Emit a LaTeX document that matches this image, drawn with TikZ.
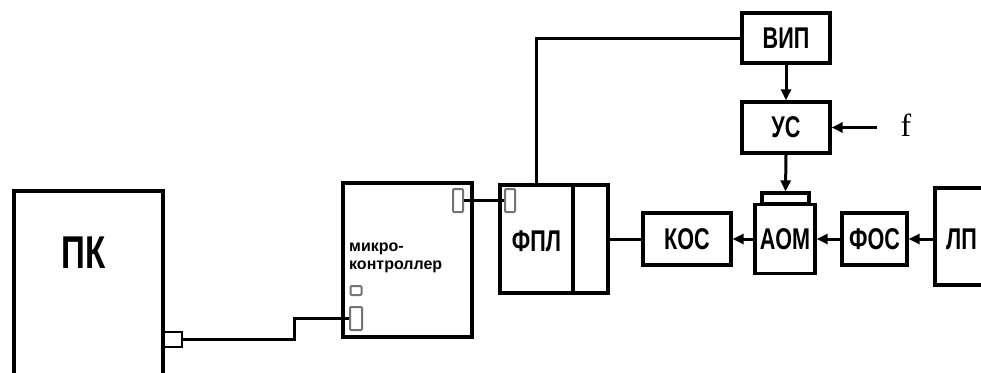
\documentclass[tikz,border=0pt]{standalone}
\usepackage{fontspec}
\setmainfont{Liberation Sans}
\newfontfamily\cond[FakeStretch=0.72]{Liberation Sans}
\newfontfamily\serifnorm{Liberation Serif}
\usetikzlibrary{arrows.meta}
\begin{document}
\begin{tikzpicture}[x=1pt,y=-1pt,
  blk/.style={draw=black,line width=3.2pt,minimum width=#1,inner sep=0pt},
  lbl/.style={font=\cond\bfseries\fontsize{30}{30}\selectfont,inner sep=0pt},
  port/.style={draw=black!55,line width=2pt,inner sep=0pt,rounded corners=1pt},
  wire/.style={line width=3pt},
  arr/.style={line width=3pt,-{Triangle[length=11pt,width=10pt]}}
]
\clip (0,0) rectangle (981,372);
\fill[white] (0,0) rectangle (981,372);
% PK
\node[blk=149pt,minimum height=209pt] (pk) at (88.5,295.5) {};
\node[lbl,font=\cond\bfseries\fontsize{46}{46}\selectfont] (pkt) at (84,253) {ПК};
\node[draw=black,line width=2.5pt,minimum width=19pt,minimum height=15pt,inner sep=0pt] (pkport) at (172.5,339.5) {};
% microcontroller
\node[blk=129pt,minimum height=154pt] (mc) at (407.5,260) {};
\node[anchor=west,align=left,font=\bfseries\fontsize{16}{18}\selectfont,inner sep=0pt] (mct) at (349,258) {микро-\\контроллер};
\node[port,minimum width=10pt,minimum height=23pt] (mp1) at (458,200.5) {};
\node[port,minimum width=11pt,minimum height=9pt] (mp2) at (356,290.5) {};
\node[port,minimum width=12pt,minimum height=23pt] (mp3) at (356,318.5) {};
% FPL
\node[blk=73pt,minimum height=108pt] (fpl) at (536.5,239) {};
\node[blk=35pt,minimum height=108pt] (fpl2) at (590.5,239) {};
\node[lbl] (fplt) at (536.5,241) {ФПЛ};
\node[port,minimum width=10pt,minimum height=23pt] (fp) at (510,200.5) {};
% VIP, US
\node[blk=88pt,minimum height=50pt,lbl] (vip) at (786,38) {ВИП};
\node[blk=88pt,minimum height=51pt,lbl] (us) at (786,127.5) {УС};
\coordinate (fin) at (877,127.5);
\node[font=\serifnorm\fontsize{32}{32}\selectfont,inner sep=0pt] (f) at (906,125) {f};
% AOM
\node[blk=47pt,minimum height=11pt] (cap) at (785.5,198.5) {};
\node[blk=60pt,minimum height=69pt,lbl] (aom) at (785,239) {АОМ};
% KOS, FOS, LP
\node[blk=88pt,minimum height=52pt,lbl] (kos) at (687,239) {КОС};
\node[blk=65pt,minimum height=52pt,lbl] (fos) at (874.5,239) {ФОС};
\node[blk=95pt,minimum height=97pt] (lp) at (982.5,236.5) {};
\node[lbl,anchor=west] (lpt) at (946,239) {ЛП};
% connectors
\coordinate (bend) at (294,339.5);
\draw[wire] (pkport.east) -- (bend) |- (mp3.west);
\draw[wire] (mp1.east) -- (fp.west);
\draw[wire] (fpl.north) |- (vip.west);
\draw[arr] (vip.south) -- (us.north);
\draw[arr] (us.south) -- (cap.north);
\draw[arr] (fin) -- (us.east);
\draw[wire] (fpl2.east) -- (kos.west);
\draw[arr] (aom.west) -- (kos.east);
\draw[arr] (fos.west) -- (aom.east);
\draw[arr] (lp.west |- fos.east) -- (fos.east);
\end{tikzpicture}
\end{document}
